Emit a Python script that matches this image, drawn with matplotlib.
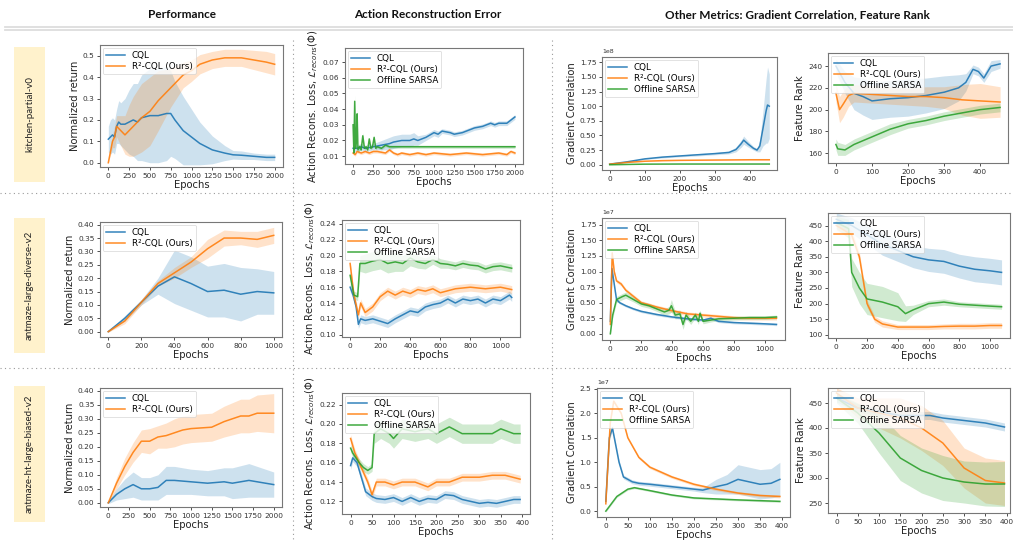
import matplotlib
matplotlib.use('Agg')
import matplotlib.pyplot as plt
import numpy as np
from matplotlib.lines import Line2D
from matplotlib.patches import Rectangle

# ---------------- DATA ----------------
headers = ["Performance", "Action Reconstruction Error",
           "Other Metrics: Gradient Correlation, Feature Rank"]
row_names = ["kitchen-partial-v0", "antmaze-large-diverse-v2", "antmaze-ht-large-biased-v2"]
lbl_cql, lbl_r2, lbl_sarsa = "CQL", "R²-CQL (Ours)", "Offline SARSA"

# Row 1: kitchen-partial-v0
k_perf_cql_x = [0, 25, 50, 75, 100, 125, 150, 200, 250, 300, 350, 400, 500, 600, 700, 750, 800, 900,
                1000, 1100, 1250, 1400, 1500, 1600, 1750, 1900, 2000]
k_perf_cql_m = [0.11, 0.12, 0.13, 0.12, 0.17, 0.19, 0.18, 0.18, 0.19, 0.20, 0.19, 0.21, 0.22, 0.22, 0.23,
                0.23, 0.20, 0.15, 0.12, 0.09, 0.06, 0.045, 0.037, 0.035, 0.03, 0.025, 0.025]
k_perf_cql_s = [0.06, 0.08, 0.08, 0.08, 0.08, 0.10, 0.10, 0.12, 0.15, 0.17, 0.18, 0.20, 0.22, 0.22, 0.22,
                0.20, 0.18, 0.16, 0.13, 0.10, 0.065, 0.035, 0.02, 0.02, 0.015, 0.015, 0.015]
k_perf_r2_x = [0, 50, 75, 100, 150, 200, 250, 300, 400, 500, 600, 750, 900, 1000, 1100, 1250, 1400,
               1500, 1600, 1750, 1900, 2000]
k_perf_r2_m = [0.0, 0.10, 0.12, 0.17, 0.15, 0.13, 0.15, 0.17, 0.21, 0.24, 0.29, 0.35, 0.41, 0.43,
               0.46, 0.48, 0.49, 0.49, 0.49, 0.48, 0.47, 0.46]
k_perf_r2_s = [0.0, 0.03, 0.05, 0.05, 0.07, 0.09, 0.12, 0.14, 0.16, 0.16, 0.14, 0.09, 0.06, 0.05,
               0.045, 0.04, 0.04, 0.04, 0.04, 0.045, 0.05, 0.05]

k_rec_cql_x = [0, 50, 100, 150, 250, 350, 450, 500, 600, 700, 750, 800, 900, 1000, 1050, 1100, 1200, 1250,
               1350, 1400, 1500, 1600, 1700, 1750, 1800, 1900, 1950, 2000]
k_rec_cql_m = [0.015, 0.015, 0.016, 0.015, 0.016, 0.017, 0.018, 0.019, 0.020, 0.020, 0.021, 0.020, 0.022,
               0.025, 0.024, 0.026, 0.025, 0.024, 0.025, 0.026, 0.028, 0.029, 0.031, 0.030, 0.031, 0.031, 0.033, 0.035]
k_rec_cql_s = [0.002, 0.002, 0.002, 0.002, 0.002, 0.003, 0.004, 0.004, 0.004, 0.004, 0.004, 0.003, 0.002,
               0.002, 0.002, 0.0015, 0.0015, 0.0015, 0.0015, 0.0015, 0.0015, 0.0015, 0.0015, 0.0015, 0.0015,
               0.0015, 0.0015, 0.0015]
k_rec_r2_x = [0, 25, 50, 100, 150, 200, 250, 300, 400, 450, 500, 550, 600, 700, 800, 900, 1000, 1200,
              1400, 1600, 1800, 1900, 1950, 2000]
k_rec_r2_m = [0.012, 0.011, 0.013, 0.012, 0.013, 0.012, 0.013, 0.013, 0.012, 0.014, 0.012, 0.011, 0.012,
              0.011, 0.012, 0.011, 0.012, 0.011, 0.012, 0.011, 0.012, 0.011, 0.013, 0.012]
k_rec_r2_s = [0.001] * 24
k_rec_sa_x = [0, 10, 20, 30, 40, 50, 60, 80, 100, 120, 140, 160, 180, 200, 220, 240, 260, 280, 300, 350,
              400, 450, 500, 1000, 1500, 2000]
k_rec_sa_m = [0.030, 0.012, 0.045, 0.015, 0.020, 0.037, 0.014, 0.016, 0.014, 0.023, 0.015, 0.016, 0.014,
              0.021, 0.015, 0.016, 0.022, 0.015, 0.016, 0.015, 0.017, 0.016, 0.016, 0.016, 0.016, 0.016]
k_rec_sa_s = [0.004, 0.002, 0.004, 0.002, 0.002, 0.003, 0.002, 0.002, 0.001, 0.002, 0.001, 0.001, 0.001,
              0.001, 0.001, 0.001, 0.001, 0.001, 0.001, 0.001, 0.001, 0.001, 0.001, 0.001, 0.001, 0.001]

k_gc_cql_x = [0, 50, 100, 150, 200, 250, 300, 340, 360, 375, 382, 395, 410, 420, 428, 437, 446, 450, 455]
k_gc_cql_m = [0.01e8, 0.05e8, 0.10e8, 0.13e8, 0.15e8, 0.17e8, 0.19e8, 0.21e8, 0.26e8, 0.36e8, 0.42e8,
              0.35e8, 0.28e8, 0.25e8, 0.32e8, 0.62e8, 0.92e8, 1.02e8, 1.00e8]
k_gc_cql_s = [0.005e8, 0.01e8, 0.01e8, 0.015e8, 0.015e8, 0.02e8, 0.02e8, 0.025e8, 0.04e8, 0.06e8, 0.07e8,
              0.05e8, 0.03e8, 0.03e8, 0.1e8, 0.3e8, 0.55e8, 0.65e8, 0.55e8]
k_gc_r2_x = [0, 50, 100, 150, 200, 300, 400, 455]
k_gc_r2_m = [0.01e8, 0.04e8, 0.06e8, 0.07e8, 0.075e8, 0.08e8, 0.085e8, 0.085e8]
k_gc_r2_s = [0.002e8, 0.005e8, 0.005e8, 0.005e8, 0.005e8, 0.005e8, 0.005e8, 0.005e8]
k_gc_sa_x = [0, 100, 200, 300, 400, 455]
k_gc_sa_m = [0.0, 0.01e8, 0.012e8, 0.012e8, 0.012e8, 0.012e8]
k_gc_sa_s = [0.002e8] * 6

k_fr_cql_x = [0, 25, 50, 75, 100, 150, 200, 250, 300, 340, 360, 380, 395, 410, 430, 455]
k_fr_cql_m = [240, 225, 215, 212, 208, 210, 211, 213, 216, 220, 225, 237, 235, 229, 240, 242]
k_fr_cql_s = [6, 10, 15, 17, 17, 17, 17, 16, 15, 12, 8, 4, 4, 4, 5, 4]
k_fr_r2_x = [0, 10, 20, 35, 50, 100, 150, 200, 250, 300, 350, 400, 455]
k_fr_r2_m = [215, 200, 205, 213, 215, 214, 213, 212, 212, 211, 209, 208, 207]
k_fr_r2_s = [8, 12, 12, 10, 8, 8, 8, 8, 9, 10, 14, 16, 14]
k_fr_sa_x = [0, 5, 25, 50, 100, 150, 200, 250, 300, 350, 400, 455]
k_fr_sa_m = [168, 164, 163, 168, 175, 182, 187, 190, 194, 197, 200, 202]
k_fr_sa_s = [5, 6, 5, 5, 5, 5, 4, 4, 4, 4, 4, 4]

# Row 2: antmaze-large-diverse-v2
d_perf_x = [0, 100, 200, 300, 400, 500, 600, 700, 800, 900, 1000]
d_perf_cql_m = [0.0, 0.05, 0.11, 0.17, 0.205, 0.18, 0.15, 0.155, 0.14, 0.15, 0.145]
d_perf_cql_s = [0.002, 0.01, 0.01, 0.03, 0.10, 0.10, 0.095, 0.10, 0.10, 0.085, 0.08]
d_perf_r2_m = [0.0, 0.04, 0.11, 0.18, 0.22, 0.26, 0.31, 0.35, 0.35, 0.345, 0.36]
d_perf_r2_s = [0.002, 0.01, 0.01, 0.01, 0.02, 0.02, 0.035, 0.03, 0.025, 0.03, 0.03]

d_rec_cql_x = [0, 20, 40, 55, 70, 100, 150, 200, 250, 300, 350, 400, 450, 500, 550, 600, 650, 700, 750,
               800, 850, 900, 950, 1000, 1060, 1075]
d_rec_cql_m = [0.160, 0.150, 0.135, 0.113, 0.120, 0.118, 0.120, 0.117, 0.114, 0.120, 0.125, 0.130, 0.128,
               0.135, 0.138, 0.140, 0.145, 0.140, 0.145, 0.143, 0.145, 0.140, 0.145, 0.143, 0.150, 0.147]
d_rec_cql_s = [0.005] * 26
d_rec_r2_x = [0, 25, 55, 70, 100, 150, 200, 250, 300, 350, 400, 450, 500, 550, 600, 700, 800, 900,
              1000, 1075]
d_rec_r2_m = [0.190, 0.150, 0.125, 0.140, 0.128, 0.135, 0.148, 0.155, 0.150, 0.155, 0.152, 0.157, 0.155,
              0.158, 0.153, 0.158, 0.160, 0.158, 0.160, 0.157]
d_rec_r2_s = [0.005] * 20
d_rec_sa_x = [0, 25, 50, 65, 100, 150, 200, 250, 300, 350, 400, 450, 500, 550, 600, 650, 700, 750, 800,
              850, 900, 950, 1000, 1075]
d_rec_sa_m = [0.175, 0.150, 0.148, 0.190, 0.190, 0.193, 0.195, 0.190, 0.192, 0.190, 0.197, 0.192, 0.190,
              0.195, 0.190, 0.189, 0.187, 0.190, 0.188, 0.187, 0.183, 0.186, 0.187, 0.184]
d_rec_sa_s = [0.006, 0.005, 0.005, 0.010, 0.012, 0.012, 0.012, 0.012, 0.012, 0.010, 0.010, 0.008, 0.007,
              0.006, 0.006, 0.005, 0.005, 0.005, 0.005, 0.005, 0.005, 0.005, 0.005, 0.005]

d_gc_cql_x = [0, 10, 25, 40, 60, 100, 150, 200, 300, 400, 500, 600, 650, 700, 800, 900, 1000, 1075]
d_gc_cql_m = [0.2e7, 1.05e7, 0.8e7, 0.55e7, 0.5e7, 0.45e7, 0.4e7, 0.36e7, 0.31e7, 0.27e7, 0.24e7, 0.22e7,
              0.25e7, 0.2e7, 0.18e7, 0.17e7, 0.16e7, 0.15e7]
d_gc_cql_s = [0.02e7] * 18
d_gc_r2_x = [0, 12, 25, 40, 70, 100, 150, 200, 300, 400, 500, 600, 700, 800, 900, 1000, 1075]
d_gc_r2_m = [0.15e7, 1.3e7, 1.0e7, 0.85e7, 0.8e7, 0.7e7, 0.6e7, 0.5e7, 0.43e7, 0.37e7, 0.32e7, 0.3e7,
             0.28e7, 0.26e7, 0.25e7, 0.25e7, 0.25e7]
d_gc_r2_s = [0.03e7] * 17
d_gc_sa_x = [0, 15, 40, 80, 100, 150, 200, 250, 300, 350, 380, 395, 420, 450, 470, 490, 520, 550, 570,
             580, 600, 650, 700, 800, 900, 1000, 1075]
d_gc_sa_m = [0.0, 0.3e7, 0.55e7, 0.6e7, 0.62e7, 0.55e7, 0.48e7, 0.45e7, 0.4e7, 0.35e7, 0.38e7, 0.45e7,
             0.3e7, 0.32e7, 0.15e7, 0.3e7, 0.2e7, 0.3e7, 0.2e7, 0.33e7, 0.2e7, 0.22e7, 0.24e7, 0.25e7,
             0.26e7, 0.26e7, 0.27e7]
d_gc_sa_s = [0.02e7, 0.05e7, 0.05e7, 0.05e7, 0.05e7, 0.04e7, 0.04e7, 0.04e7, 0.04e7, 0.05e7, 0.06e7,
             0.1e7, 0.06e7, 0.06e7, 0.08e7, 0.06e7, 0.05e7, 0.05e7, 0.05e7, 0.05e7, 0.04e7, 0.03e7,
             0.03e7, 0.03e7, 0.03e7, 0.03e7, 0.03e7]

d_fr_cql_x = [0, 100, 200, 300, 400, 500, 600, 700, 800, 900, 1000, 1075]
d_fr_cql_m = [470, 450, 420, 390, 370, 350, 340, 335, 320, 310, 305, 300]
d_fr_cql_s = [20, 25, 30, 35, 35, 35, 37, 38, 38, 40, 40, 40]
d_fr_r2_x = [0, 100, 150, 200, 250, 300, 400, 500, 600, 700, 800, 900, 1000, 1075]
d_fr_r2_m = [450, 420, 350, 200, 150, 135, 125, 125, 125, 127, 128, 128, 130, 130]
d_fr_r2_s = [15, 15, 15, 12, 10, 10, 8, 8, 8, 8, 9, 9, 9, 9]
d_fr_sa_x = [0, 80, 100, 150, 200, 300, 400, 450, 500, 600, 700, 800, 900, 1000, 1075]
d_fr_sa_m = [460, 440, 300, 250, 215, 205, 190, 168, 180, 200, 205, 198, 195, 192, 190]
d_fr_sa_s = [20, 30, 45, 50, 50, 50, 45, 25, 15, 10, 10, 8, 8, 8, 8]

# Row 3: antmaze-ht-large-biased-v2
b_perf_cql_x = [0, 100, 200, 300, 400, 500, 600, 700, 800, 1000, 1200, 1400, 1500, 1700, 1800, 2000]
b_perf_cql_m = [0.0, 0.03, 0.05, 0.065, 0.05, 0.05, 0.055, 0.08, 0.08, 0.075, 0.07, 0.075, 0.07, 0.08,
                0.075, 0.065]
b_perf_cql_s = [0.003, 0.02, 0.035, 0.045, 0.04, 0.04, 0.045, 0.05, 0.05, 0.045, 0.045, 0.05, 0.055,
                0.06, 0.055, 0.045]
b_perf_r2_x = [0, 100, 200, 300, 400, 500, 600, 700, 800, 900, 1000, 1250, 1400, 1600, 1700, 1800, 2000]
b_perf_r2_m = [0.0, 0.07, 0.13, 0.18, 0.22, 0.22, 0.235, 0.24, 0.25, 0.26, 0.265, 0.27, 0.29, 0.31,
               0.31, 0.32, 0.32]
b_perf_r2_s = [0.003, 0.02, 0.03, 0.035, 0.04, 0.045, 0.04, 0.045, 0.05, 0.05, 0.05, 0.05, 0.055, 0.06,
               0.06, 0.065, 0.07]

b_rec_cql_x = [0, 5, 15, 25, 35, 50, 60, 80, 100, 120, 140, 160, 180, 200, 220, 240, 260, 280, 300, 320,
               340, 360, 380, 395]
b_rec_cql_m = [0.157, 0.165, 0.160, 0.145, 0.130, 0.125, 0.123, 0.122, 0.124, 0.120, 0.124, 0.120, 0.123,
               0.122, 0.127, 0.126, 0.122, 0.120, 0.118, 0.119, 0.118, 0.120, 0.122, 0.122]
b_rec_cql_s = [0.004] * 24
b_rec_r2_x = [0, 10, 25, 40, 50, 60, 80, 100, 120, 150, 180, 200, 230, 260, 300, 330, 360, 395]
b_rec_r2_m = [0.185, 0.170, 0.155, 0.140, 0.127, 0.140, 0.140, 0.137, 0.140, 0.140, 0.135, 0.140, 0.140,
              0.145, 0.145, 0.147, 0.147, 0.143]
b_rec_r2_s = [0.004] * 18
b_rec_sa_x = [0, 5, 20, 30, 40, 50, 55, 70, 90, 100, 120, 150, 180, 200, 230, 260, 300, 330, 350, 380, 395]
b_rec_sa_m = [0.175, 0.170, 0.160, 0.155, 0.152, 0.155, 0.190, 0.195, 0.190, 0.185, 0.195, 0.192, 0.195,
              0.190, 0.197, 0.190, 0.190, 0.190, 0.195, 0.190, 0.190]
b_rec_sa_s = [0.004, 0.004, 0.004, 0.004, 0.004, 0.004, 0.010, 0.010, 0.010, 0.010, 0.010, 0.010, 0.010,
              0.010, 0.010, 0.010, 0.010, 0.010, 0.010, 0.010, 0.010]

b_gc_cql_x = [0, 8, 15, 30, 40, 60, 75, 100, 150, 200, 220, 250, 275, 300, 325, 350, 375, 395]
b_gc_cql_m = [0.2e7, 1.5e7, 1.7e7, 1.0e7, 0.7e7, 0.6e7, 0.57e7, 0.55e7, 0.5e7, 0.45e7, 0.43e7, 0.5e7,
              0.55e7, 0.65e7, 0.6e7, 0.55e7, 0.57e7, 0.65e7]
b_gc_cql_s = [0.02e7, 0.05e7, 0.05e7, 0.05e7, 0.04e7, 0.04e7, 0.04e7, 0.04e7, 0.04e7, 0.04e7, 0.05e7,
              0.15e7, 0.2e7, 0.3e7, 0.3e7, 0.3e7, 0.3e7, 0.35e7]
b_gc_r2_x = [0, 10, 18, 35, 50, 75, 100, 150, 200, 250, 300, 350, 395]
b_gc_r2_m = [0.15e7, 1.8e7, 2.25e7, 2.0e7, 1.5e7, 1.1e7, 0.9e7, 0.7e7, 0.55e7, 0.45e7, 0.37e7, 0.32e7,
             0.3e7]
b_gc_r2_s = [0.03e7] * 13
b_gc_sa_x = [0, 25, 50, 65, 100, 150, 200, 300, 395]
b_gc_sa_m = [0.0, 0.3e7, 0.45e7, 0.48e7, 0.42e7, 0.33e7, 0.27e7, 0.23e7, 0.2e7]
b_gc_sa_s = [0.02e7] * 9

b_fr_cql_x = [0, 50, 150, 220, 250, 300, 350, 395]
b_fr_cql_m = [460, 440, 425, 425, 420, 415, 410, 402]
b_fr_cql_s = [8, 8, 8, 8, 8, 8, 8, 8]
b_fr_r2_x = [0, 50, 100, 150, 200, 250, 300, 350, 395]
b_fr_r2_m = [470, 440, 430, 420, 400, 370, 320, 295, 290]
b_fr_r2_s = [10, 20, 30, 40, 45, 45, 40, 45, 45]
b_fr_sa_x = [0, 50, 100, 150, 200, 250, 300, 350, 395]
b_fr_sa_m = [460, 430, 390, 340, 315, 300, 292, 288, 288]
b_fr_sa_s = [10, 20, 40, 45, 45, 45, 42, 44, 45]

# ---------------- STYLE / LAYOUT ----------------
W, H = 1013, 542
C_BLUE, C_ORANGE, C_GREEN = '#1f77b4', '#ff7f0e', '#2ca02c'
plt.rcParams['font.family'] = ['DejaVu Sans']

fig = plt.figure(figsize=(W / 100, H / 100), dpi=100)
fig.patch.set_facecolor('white')


def ax_at(l, t, r, b):
    return fig.add_axes([l / W, 1 - b / H, (r - l) / W, (b - t) / H])


def series(ax, x, m, s, color, label):
    x = np.asarray(x, float); m = np.asarray(m, float); s = np.asarray(s, float)
    ax.fill_between(x, m - s, m + s, color=color, alpha=0.22, lw=0)
    ax.plot(x, m, color=color, lw=1.1, alpha=0.9, label=label)


def style(ax, ylabel, xlim, ylim, xticks, yticks):
    ax.set_xlim(*xlim); ax.set_ylim(*ylim)
    ax.set_xticks(xticks); ax.set_yticks(yticks)
    ax.tick_params(labelsize=5.3, length=2.5, width=0.6, pad=1.5, colors='#333333')
    for sp in ax.spines.values():
        sp.set_color('#777777'); sp.set_linewidth(0.8)
    ax.set_xlabel('Epochs', fontsize=7.2, labelpad=1, color='#222222')
    ax.set_ylabel(ylabel, fontsize=7.2, labelpad=2, color='#222222')
    ax.yaxis.get_offset_text().set_fontsize(4.5)
    leg = ax.legend(loc='upper left', fontsize=6.3, frameon=True, handlelength=2.2,
                    borderpad=0.35, labelspacing=0.25, handletextpad=0.8, borderaxespad=0.3)
    leg.get_frame().set_linewidth(0.5)
    leg.get_frame().set_alpha(0.8)


REC = r'Action Recons. Loss, $\mathcal{L}_{recons}(\Phi)$'

# Row 1
ax = ax_at(100, 45, 283, 167)
series(ax, k_perf_cql_x, k_perf_cql_m, k_perf_cql_s, C_BLUE, lbl_cql)
series(ax, k_perf_r2_x, k_perf_r2_m, k_perf_r2_s, C_ORANGE, lbl_r2)
style(ax, 'Normalized return', (-100, 2100), (-0.02, 0.55), np.arange(0, 2001, 250), np.arange(0, 0.51, 0.1))

ax = ax_at(345, 48, 523, 164)
series(ax, k_rec_cql_x, k_rec_cql_m, k_rec_cql_s, C_BLUE, lbl_cql)
series(ax, k_rec_r2_x, k_rec_r2_m, k_rec_r2_s, C_ORANGE, lbl_r2)
series(ax, k_rec_sa_x, k_rec_sa_m, k_rec_sa_s, C_GREEN, lbl_sarsa)
style(ax, REC, (-100, 2100), (0.005, 0.079), np.arange(0, 2001, 250), np.arange(0.01, 0.071, 0.01))

ax = ax_at(602, 57, 777, 170)
series(ax, k_gc_cql_x, k_gc_cql_m, k_gc_cql_s, C_BLUE, lbl_cql)
series(ax, k_gc_r2_x, k_gc_r2_m, k_gc_r2_s, C_ORANGE, lbl_r2)
series(ax, k_gc_sa_x, k_gc_sa_m, k_gc_sa_s, C_GREEN, lbl_sarsa)
style(ax, 'Gradient Correlation', (-22, 477), (-0.09e8, 1.84e8), np.arange(0, 401, 100), np.arange(0, 1.76e8, 0.25e8))

ax = ax_at(828, 53, 1008, 163)
series(ax, k_fr_cql_x, k_fr_cql_m, k_fr_cql_s, C_BLUE, lbl_cql)
series(ax, k_fr_r2_x, k_fr_r2_m, k_fr_r2_s, C_ORANGE, lbl_r2)
series(ax, k_fr_sa_x, k_fr_sa_m, k_fr_sa_s, C_GREEN, lbl_sarsa)
style(ax, 'Feature Rank', (-22, 477), (151, 252), np.arange(0, 401, 100), np.arange(160, 241, 20))

# Row 2
ax = ax_at(100, 222, 282, 337)
series(ax, d_perf_x, d_perf_cql_m, d_perf_cql_s, C_BLUE, lbl_cql)
series(ax, d_perf_x, d_perf_r2_m, d_perf_r2_s, C_ORANGE, lbl_r2)
style(ax, 'Normalized return', (-50, 1050), (-0.02, 0.41), np.arange(0, 1001, 200), np.arange(0, 0.401, 0.05))

ax = ax_at(342, 220, 520, 337)
series(ax, d_rec_cql_x, d_rec_cql_m, d_rec_cql_s, C_BLUE, lbl_cql)
series(ax, d_rec_r2_x, d_rec_r2_m, d_rec_r2_s, C_ORANGE, lbl_r2)
series(ax, d_rec_sa_x, d_rec_sa_m, d_rec_sa_s, C_GREEN, lbl_sarsa)
style(ax, REC, (-54, 1130), (0.097, 0.245), np.arange(0, 1001, 200), np.arange(0.10, 0.241, 0.02))

ax = ax_at(602, 218, 785, 340)
series(ax, d_gc_cql_x, d_gc_cql_m, d_gc_cql_s, C_BLUE, lbl_cql)
series(ax, d_gc_r2_x, d_gc_r2_m, d_gc_r2_s, C_ORANGE, lbl_r2)
series(ax, d_gc_sa_x, d_gc_sa_m, d_gc_sa_s, C_GREEN, lbl_sarsa)
style(ax, 'Gradient Correlation', (-54, 1130), (-0.1e7, 1.86e7), np.arange(0, 1001, 200), np.arange(0, 1.76e7, 0.25e7))

ax = ax_at(828, 213, 1010, 338)
series(ax, d_fr_cql_x, d_fr_cql_m, d_fr_cql_s, C_BLUE, lbl_cql)
series(ax, d_fr_r2_x, d_fr_r2_m, d_fr_r2_s, C_ORANGE, lbl_r2)
series(ax, d_fr_sa_x, d_fr_sa_m, d_fr_sa_s, C_GREEN, lbl_sarsa)
style(ax, 'Feature Rank', (-54, 1130), (90, 490), np.arange(0, 1001, 200), np.arange(100, 451, 50))

# Row 3
ax = ax_at(100, 388, 282, 507)
series(ax, b_perf_cql_x, b_perf_cql_m, b_perf_cql_s, C_BLUE, lbl_cql)
series(ax, b_perf_r2_x, b_perf_r2_m, b_perf_r2_s, C_ORANGE, lbl_r2)
style(ax, 'Normalized return', (-100, 2100), (-0.015, 0.41), np.arange(0, 2001, 250), np.arange(0, 0.401, 0.05))

ax = ax_at(342, 393, 530, 514)
series(ax, b_rec_cql_x, b_rec_cql_m, b_rec_cql_s, C_BLUE, lbl_cql)
series(ax, b_rec_r2_x, b_rec_r2_m, b_rec_r2_s, C_ORANGE, lbl_r2)
series(ax, b_rec_sa_x, b_rec_sa_m, b_rec_sa_s, C_GREEN, lbl_sarsa)
style(ax, REC, (-20, 418), (0.107, 0.232), np.arange(0, 401, 50), np.arange(0.12, 0.221, 0.02))

ax = ax_at(597, 388, 790, 517)
series(ax, b_gc_cql_x, b_gc_cql_m, b_gc_cql_s, C_BLUE, lbl_cql)
series(ax, b_gc_r2_x, b_gc_r2_m, b_gc_r2_s, C_ORANGE, lbl_r2)
series(ax, b_gc_sa_x, b_gc_sa_m, b_gc_sa_s, C_GREEN, lbl_sarsa)
style(ax, 'Gradient Correlation', (-20, 418), (-0.12e7, 2.52e7), np.arange(0, 401, 50), np.arange(0, 2.51e7, 0.5e7))

ax = ax_at(828, 388, 1010, 513)
series(ax, b_fr_cql_x, b_fr_cql_m, b_fr_cql_s, C_BLUE, lbl_cql)
series(ax, b_fr_r2_x, b_fr_r2_m, b_fr_r2_s, C_ORANGE, lbl_r2)
series(ax, b_fr_sa_x, b_fr_sa_m, b_fr_sa_s, C_GREEN, lbl_sarsa)
style(ax, 'Feature Rank', (-20, 408), (230, 480), np.arange(0, 401, 50), np.arange(250, 451, 50))

# ---------------- DECORATION ----------------
hx = [182, 428, 797]
for x, t in zip(hx, headers):
    fig.text(x / W, 1 - 15 / H, t, ha='center', va='center', fontsize=8.5, fontweight='bold',
             family=['Lato', 'DejaVu Sans'], color='#111111')
for y in (27, 30):
    fig.add_artist(Line2D([5 / W, 1], [1 - y / H] * 2, color='#dddddd', lw=1.3))
for y in (193, 368):
    fig.add_artist(Line2D([0, 1], [1 - y / H] * 2, color='#9a9a9a', lw=0.8, ls=(0, (1, 3))))
for x in (293, 552):
    fig.add_artist(Line2D([x / W] * 2, [1 - 40 / H, 0], color='#9a9a9a', lw=0.8, ls=(0, (1, 3))))

boxes = [(47, 182), (218, 353), (386, 522)]
for (t, b), name in zip(boxes, row_names):
    fig.add_artist(Rectangle((14 / W, 1 - b / H), 31 / W, (b - t) / H, transform=fig.transFigure,
                             facecolor='#fff2cc', edgecolor='none'))
    fig.text(29.5 / W, 1 - (t + b) / 2 / H, name, rotation=90, ha='center', va='center',
             fontsize=7, family=['Lato', 'DejaVu Sans'], color='#222222')

fig.savefig('out.png', dpi=100, facecolor='white')
